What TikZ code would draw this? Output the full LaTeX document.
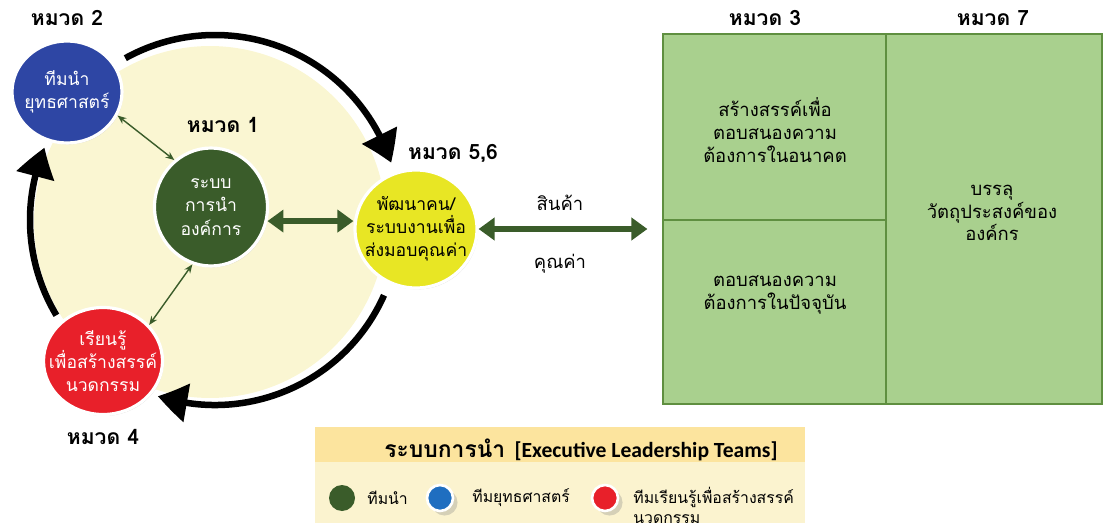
\documentclass[tikz,border=0pt]{standalone}
\usepackage{fontspec}
\setmainfont[Script=Thai]{Loma}
\newfontfamily\engfont{Carlito}
\usepackage{xcolor}
\usepackage{tikz}
\usetikzlibrary{arrows.meta,bending,positioning,shapes.geometric,calc,shadows}

\definecolor{paleyel}{HTML}{FAF6D2}
\definecolor{teamblue}{HTML}{2E46A4}
\definecolor{teamgreen}{HTML}{3A5C2A}
\definecolor{teamyel}{HTML}{E8E624}
\definecolor{teamred}{HTML}{E8202A}
\definecolor{cellgreen}{HTML}{A9D08E}
\definecolor{celledge}{HTML}{5F8F40}
\definecolor{legbar}{HTML}{FCE49E}
\definecolor{legbody}{HTML}{FBF3CF}
\definecolor{legblue}{HTML}{1F6EC0}

\begin{document}
\begin{tikzpicture}[
    x=0.02cm, y=0.02cm,
    font=\fontsize{10.5}{13}\selectfont,
    team/.style={
        ellipse,
        draw=white,
        line width=1.8pt,
        inner sep=0pt,
        drop shadow={shadow xshift=0.6pt, shadow yshift=-0.8pt, opacity=0.3}
    },
    teamtxt/.style={align=center, inner sep=0pt, font=\fontsize{10}{13}\selectfont},
    hmwd/.style={font=\fontsize{12}{14}\selectfont\bfseries},
    cell/.style={
        draw=celledge,
        fill=cellgreen,
        line width=0.7pt,
        inner sep=0pt
    },
    dot/.style={circle, inner sep=0pt, minimum size=0.52cm},
    legtxt/.style={anchor=west, inner sep=0pt, font=\fontsize{9}{11.5}\selectfont},
    cycle/.style={line width=0.13cm, -{Triangle[length=0.6cm,width=0.75cm,bend]}},
    tie/.style={teamgreen, line width=0.8pt, {Stealth[length=5pt,width=4pt]}-{Stealth[length=5pt,width=4pt]}},
    wide/.style={teamgreen, line width=0.11cm, {Triangle[length=0.32cm,width=0.44cm]}-{Triangle[length=0.32cm,width=0.44cm]}}
]
\useasboundingbox (0,0) rectangle (1104,-523);

% --- Background: leadership cycle ---
\node[circle, fill=paleyel, minimum size=7.04cm] (hub) at (210,-222) {};
\coordinate (hubc) at (215,-220);

% --- Teams ---
\node[team, fill=teamblue, minimum width=2.2cm, minimum height=2.04cm,
      label={[teamtxt, text=white]center:{ทีมนำ\\ยุทธศาสตร์}}] (blue) at (67,-92) {};
\node[team, fill=teamgreen, minimum width=2.26cm, minimum height=2.36cm,
      label={[teamtxt, text=white, font=\fontsize{10}{13.5}\selectfont]center:{ระบบ\\การนำ\\องค์การ}}] (grn) at (211,-207) {};
\node[team, fill=teamyel, minimum width=2.44cm, minimum height=2.36cm,
      label={[teamtxt]center:{พัฒนาคน/\\ระบบงานเพื่อ\\ส่งมอบคุณค่า}}] (yel) at (416,-229) {};
\node[team, fill=teamred, minimum width=2.38cm, minimum height=2.14cm,
      label={[teamtxt, text=white]center:{เรียนรู้\\เพื่อสร้างสรรค์\\นวดกรรม}}] (red) at (103,-361) {};

% --- Category labels ---
\node[hmwd] (h2) at (67,-18) {หมวด 2};
\node[hmwd] (h1) at (223,-125) {หมวด 1};
\node[hmwd] (h56) at (453,-153) {หมวด 5,6};
\node[hmwd] (h4) at (103,-437) {หมวด 4};
\node[hmwd] (h3) at (765,-18) {หมวด 3};
\node[hmwd] (h7) at (993,-18) {หมวด 7};

% --- Cycle arrows ---
\draw[cycle] ($(hubc)+(119:185)$) arc[start angle=119, end angle=18, radius=185];
\draw[cycle] ($(hubc)+(-24:185)$) arc[start angle=-24, end angle=-108, radius=185];
\draw[cycle] ($(hubc)+(211:185)$) arc[start angle=211, end angle=157, radius=185];

% --- Links inside the cycle ---
\draw[tie] (blue.-25) -- (grn.128);
\draw[tie] (red.38) -- (grn.-108);
\draw[wide] (grn.-14) -- (yel.west |- grn.-14);

% --- Right: results grid ---
\node[cell, minimum width=4.46cm, minimum height=3.72cm] (fut) at (774.5,-127) {};
\node[cell, minimum width=4.46cm, minimum height=3.68cm] (now) at (774.5,-312) {};
\node[cell, minimum width=4.32cm, minimum height=7.4cm] (goal) at (994,-219) {};
\node[align=center] (futtxt) at (775,-130) {สร้างสรรค์เพื่อ\\ตอบสนองความ\\ต้องการในอนาคต};
\node[align=center] (nowtxt) at (775,-295) {ตอบสนองความ\\ต้องการในปัจจุบัน};
\node[align=center] (goaltxt) at (992,-213) {บรรลุ\\วัตถุประสงค์ของ\\องค์กร};

% --- Output link ---
\draw[wide, shorten >=0.3cm] (yel.east) -- (yel.east -| fut.west);
\node (prod) at (560,-203) {สินค้า};
\node (val) at (560,-264) {คุณค่า};

% --- Legend ---
\node[fill=legbody, minimum width=9.8cm, minimum height=1.22cm, inner sep=0pt] (legbody) at (560,-492.5) {};
\node[fill=legbar, minimum width=9.8cm, minimum height=0.7cm, inner sep=0pt] (legbar) at (560,-444.5) {};
\node (legtitle) at (581,-450) {{\fontsize{13}{13}\selectfont\bfseries ระบบการนำ}\enspace{\engfont\bfseries\fontsize{12.3}{12.3}\selectfont [Executive Leadership Teams]}};
\node[dot, fill=teamgreen] (dgrn) at (342,-498) {};
\node[legtxt] (tgrn) at (367,-498) {ทีมนำ};
\node[dot, fill=legblue, draw=white, line width=1.5pt, drop shadow={opacity=0.3}] (dblue) at (440,-498) {};
\node[legtxt] (tblue) at (472,-498) {ทีมยุทธศาสตร์};
\node[dot, fill=teamred, draw=white, line width=1.5pt, drop shadow={opacity=0.3}] (dred) at (605,-498) {};
\node[legtxt, anchor=north west, align=left] (tred) at (633,-487) {ทีมเรียนรู้เพื่อสร้างสรรค์\\นวดกรรม};

\end{tikzpicture}
\end{document}
